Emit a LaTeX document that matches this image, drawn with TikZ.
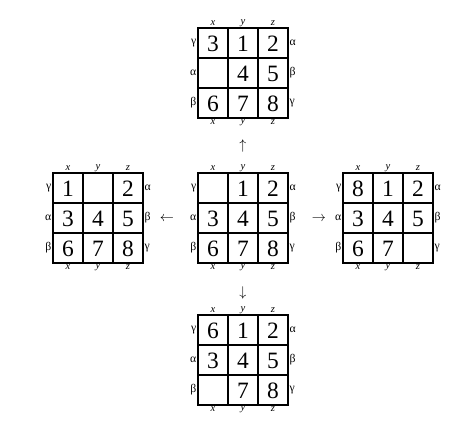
\documentclass[tikz,border=0pt]{standalone}
\usepackage{fontspec}
\setmainfont{Liberation Serif}

\tikzset{
  cellline/.style={line width=1.3pt,line cap=rect},
  digit/.style={inner sep=0pt,font=\fontsize{20}{20}\selectfont},
  collab/.style={inner sep=0pt,font=\fontsize{9}{10}\selectfont\itshape},
  rowlab/.style={inner sep=0pt,font=\fontsize{10}{11}\selectfont},
  move/.style={inner sep=0pt,font=\large}
}

% one 3x3 board: name, left, top, nine entries (row by row)
\newcommand{\board}[4]{%
  \foreach \k in {0,1,2,3} {
    \draw[cellline] ({#2+30*\k},#3) -- ({#2+30*\k},{#3+90});
    \draw[cellline] (#2,{#3+30*\k}) -- ({#2+90},{#3+30*\k});
  }
  \foreach \d [count=\i from 0] in {#4} {
    \node[digit] (#1-\i) at ({#2+15+30*mod(\i,3)},{#3+16+30*int(\i/3)}) {\d};
  }
  \foreach \c [count=\k from 0] in {x,y,z} {
    \node[collab] (#1-top\c) at ({#2+15+30*\k},{#3-5}) {\c};
    \node[collab] (#1-bot\c) at ({#2+15+30*\k},{#3+94}) {\c};
  }
  \foreach \g/\h [count=\k from 0] in {γ/α,α/β,β/γ} {
    \node[rowlab,anchor=east] (#1-l\k) at ({#2-1.5},{#3+15+30*\k}) {\g};
    \node[rowlab,anchor=west] (#1-r\k) at ({#2+91.5},{#3+15+30*\k}) {\h};
  }
}

\begin{document}
\begin{tikzpicture}[x=0.03cm,y=-0.03cm]
  \path[use as bounding box] (0,0) rectangle (476,428);

  \board{up}{198}{28}{3,1,2,{},4,5,6,7,8}
  \board{left}{53}{173}{1,{},2,3,4,5,6,7,8}
  \board{mid}{198}{173}{{},1,2,3,4,5,6,7,8}
  \board{right}{343}{173}{8,1,2,3,4,5,6,7,{}}
  \board{down}{198}{315}{6,1,2,3,4,5,{},7,8}

  \node[move] (toup) at (243,146) {\(\uparrow\)};
  \node[move] (toleft) at (167,219) {\(\leftarrow\)};
  \node[move] (toright) at (319,219) {\(\rightarrow\)};
  \node[move] (todown) at (243,293) {\(\downarrow\)};
\end{tikzpicture}
\end{document}
